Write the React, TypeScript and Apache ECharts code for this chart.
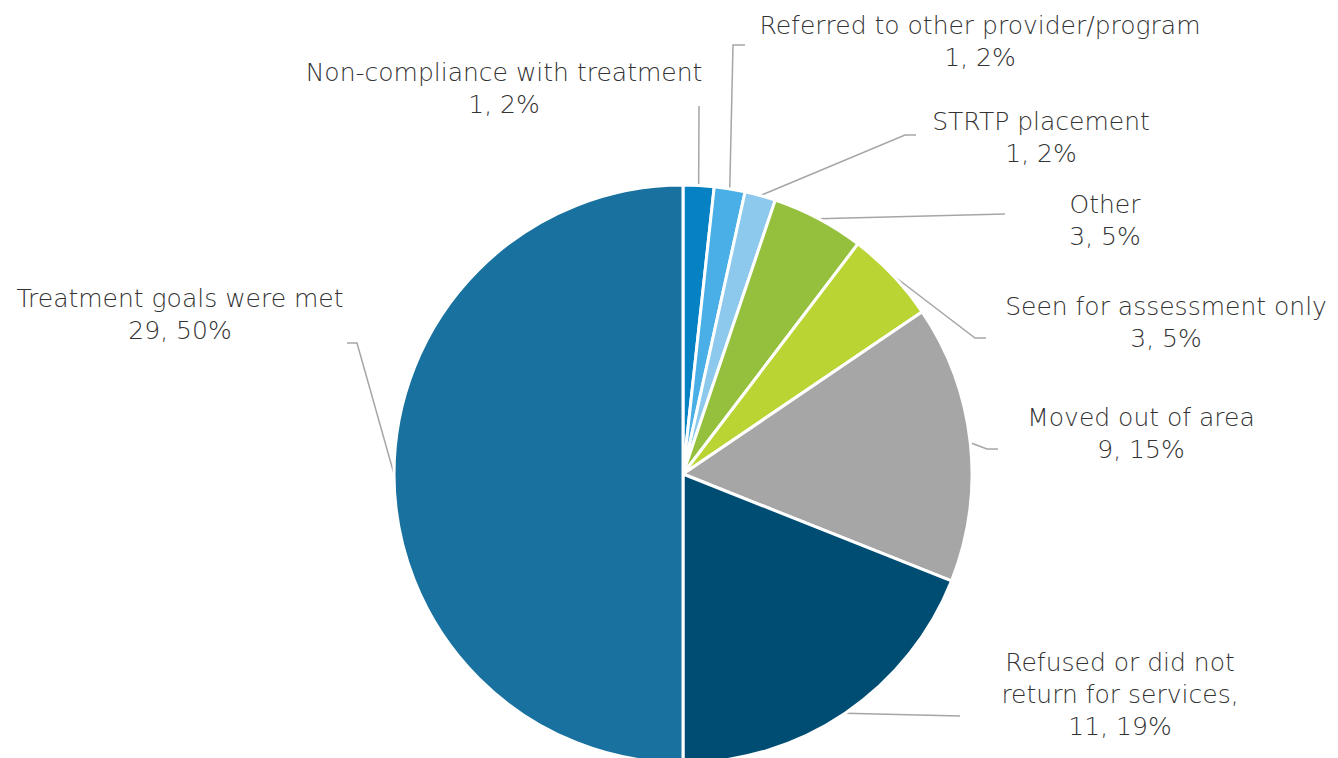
import React, { useEffect, useRef } from "react";
import * as echarts from "echarts";

const categories = [
  "Non-compliance with treatment",
  "Referred to other provider/program",
  "STRTP placement",
  "Other",
  "Seen for assessment only",
  "Moved out of area",
  "Refused or did not\nreturn for services",
  "Treatment goals were met",
];
const counts = [1, 1, 1, 3, 3, 9, 11, 29];
const colors = ["#0581C4", "#4AAFE6", "#8DC9EC", "#95C03E", "#BAD433", "#A6A6A6", "#004D73", "#18719F"];

// label block centres and leader-line end points (layout only)
const labelCenters = [
  [504, 88], [980, 41], [1041, 137], [1105, 220], [1166, 322], [1141, 433], [1120, 694], [180, 314],
];
const leaderEnds = [
  [699, 106], [745, 45], [916, 135], [1005, 214], [986, 338], [998, 449], [960, 716], [347, 343],
];
const leaderElbows = [
  null, [733, 45], [905, 135], null, [975, 338], [987, 449], null, [357, 343],
];

export default function App() {
  const ref = useRef<HTMLDivElement>(null);
  useEffect(() => {
    if (!ref.current) return;
    const chart = echarts.init(ref.current, undefined, { renderer: "svg" });
    const data = categories.map((name, i) => ({
      name,
      value: counts[i],
      itemStyle: { color: colors[i] },
      label: i === 6 ? { formatter: "{b},\n{c}, {d}%" } : undefined,
    }));
    chart.setOption({
      animation: false,
      backgroundColor: "#ffffff",
      series: [
        {
          type: "pie",
          center: [683, 474],
          radius: 289,
          startAngle: 90,
          clockwise: true,
          percentPrecision: 0,
          data,
          itemStyle: { borderColor: "#ffffff", borderWidth: 3 },
          label: {
            show: true,
            formatter: "{b}\n{c}, {d}%",
            color: "#333333",
            fontSize: 25,
            fontWeight: 200,
            lineHeight: 32,
            fontFamily: "DejaVu Sans",
            align: "center",
          },
          labelLine: {
            show: true,
            length: 20,
            length2: 10,
            lineStyle: { color: "#A6A6A6", width: 1.5 },
          },
          labelLayout: (params: any) => {
            const i = params.dataIndex;
            const c = labelCenters[i];
            const start = params.labelLinePoints ? params.labelLinePoints[0] : leaderEnds[i];
            const pts: number[][] = [start];
            if (leaderElbows[i]) pts.push(leaderElbows[i] as number[]);
            else pts.push(leaderEnds[i]);
            pts.push(leaderEnds[i]);
            return {
              x: c[0],
              y: c[1],
              align: "center",
              verticalAlign: "middle",
              labelLinePoints: pts,
            };
          },
        },
      ],
    });
    return () => chart.dispose();
  }, []);
  return (
    <div
      ref={ref}
      style={{ position: "fixed", left: 0, top: 0, width: 1338, height: 758 }}
    />
  );
}
